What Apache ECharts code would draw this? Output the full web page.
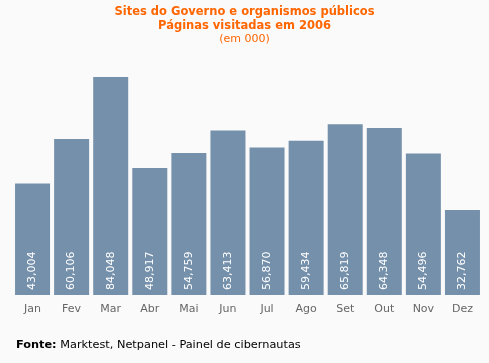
<!DOCTYPE html>
<html><head><meta charset="utf-8">
<script src="https://cdn.jsdelivr.net/npm/echarts@6/dist/echarts.min.js"></script>
<style>html,body{margin:0;padding:0;background:#fafafa;}#c{width:489px;height:363px;}</style>
</head><body><div id="c"></div>
<script>
const categories = ['Jan','Fev','Mar','Abr','Mai','Jun','Jul','Ago','Set','Out','Nov','Dez'];
const values = [43004, 60106, 84048, 48917, 54759, 63413, 56870, 59434, 65819, 64348, 54496, 32762];
const chart = echarts.init(document.getElementById('c'));
const fmt = v => v.toLocaleString('en-US');
chart.setOption({
  backgroundColor: '#fafafa',
  animation: false,
  title: [
    {text: 'Sites do Governo e organismos públicos\nPáginas visitadas em 2006', left: 'center', top: 0,
     textStyle: {color: '#ff6600', fontSize: 11.5, fontWeight: 'bold', fontFamily: 'DejaVu Sans', lineHeight: 14}},
    {text: '(em 000)', left: 'center', top: 29, textStyle: {color: '#ff6600', fontSize: 11, fontWeight: 'normal', fontFamily: 'DejaVu Sans'}},
    {text: '{b|Fonte:} Marktest, Netpanel - Painel de cibernautas', left: 11, top: 335,
     textStyle: {rich: {b: {fontWeight: 'bold', color: '#000', fontSize: 11.3, fontFamily: 'DejaVu Sans'}}, color: '#000', fontSize: 11.3, fontWeight: 'normal', fontFamily: 'DejaVu Sans'}}
  ],
  grid: {left: 13, right: 7, top: 61.5, bottom: 68},
  xAxis: {type: 'category', data: categories, axisLine: {show: false}, axisTick: {show: false},
    axisLabel: {color: '#666', fontSize: 11, fontFamily: 'DejaVu Sans', margin: 9}},
  yAxis: {type: 'value', min: 0, max: 90000, show: false, splitLine: {show: false}},
  series: [{type: 'bar', data: values, barWidth: 35,
    itemStyle: {color: '#7590ab'},
    label: {show: true, position: 'insideBottom', rotate: 90, align: 'left', verticalAlign: 'middle', distance: 5,
      color: '#fff', fontSize: 11, fontFamily: 'DejaVu Sans', formatter: p => fmt(p.value)}}]
});
</script></body></html>
